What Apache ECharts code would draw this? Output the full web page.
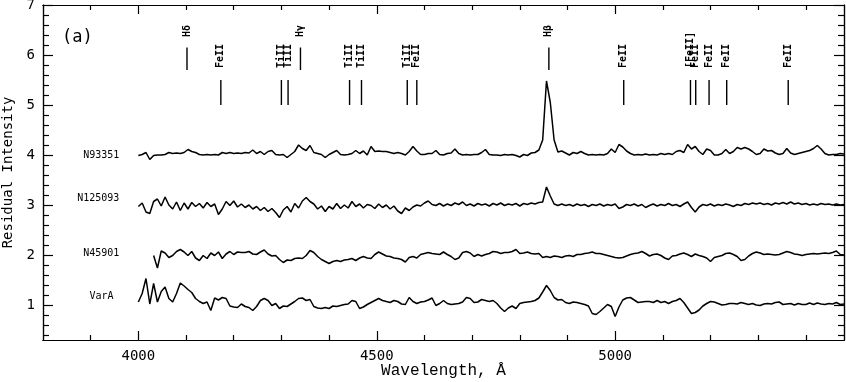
<!DOCTYPE html>
<html>
<head>
<meta charset="utf-8">
<script src="https://cdn.jsdelivr.net/npm/echarts@6/dist/echarts.min.js"></script>
<style>
html,body{margin:0;padding:0;background:#fff;}
#chart{width:846px;height:382px;}
</style>
</head>
<body>
<div id="chart"></div>
<script>
/* spectra, sampled every 8 A */
const waveStart = 4000;
const waveStep = 8;
const n45901Start = 4032;

const n93351 = [
  3.99,4.01,4.05,3.91,3.99,4.00,4.00,4.01,4.05,4.03,
  4.04,4.03,4.05,4.11,4.07,4.05,4.01,4.00,4.01,4.00,
  4.01,4.00,4.05,4.03,4.05,4.03,4.04,4.03,4.05,4.04,
  4.10,4.03,4.07,4.01,4.07,4.09,4.01,4.00,4.01,3.95,
  4.01,4.07,4.20,4.13,4.09,4.19,4.05,4.03,4.01,3.95,
  4.01,4.05,4.09,4.01,4.00,4.01,4.03,4.09,4.03,4.08,
  4.00,4.17,4.07,4.08,4.07,4.07,4.05,4.03,4.05,4.03,
  4.00,4.07,4.17,4.08,4.01,4.01,4.03,4.03,4.09,4.01,
  4.00,4.03,4.04,4.12,4.03,4.00,4.01,4.00,4.01,4.01,
  4.05,4.11,4.01,4.00,4.00,3.99,4.01,4.00,4.01,3.99,
  3.96,4.01,3.99,4.04,4.05,4.10,4.30,5.48,5.05,4.30,
  4.06,4.08,4.04,4.00,4.05,4.03,4.07,4.03,4.00,4.01,
  4.00,4.01,4.00,4.03,4.12,4.05,4.21,4.16,4.08,4.03,
  4.00,4.01,4.00,4.02,4.00,4.01,4.00,4.03,4.01,4.03,
  4.01,4.07,4.09,4.05,4.21,4.12,4.17,4.07,4.01,4.12,
  4.09,4.00,4.00,4.03,4.11,4.03,4.07,4.15,4.12,4.15,
  4.12,4.07,4.01,4.03,4.12,4.08,4.09,4.04,4.01,4.03,
  4.13,4.04,4.01,4.03,4.05,4.07,4.09,4.13,4.19,4.12,
  4.03,4.00,4.01,4.01,4.03,4.02
];

const n125093 = [
  2.97,3.04,2.86,2.83,3.07,3.12,2.98,3.16,3.00,2.92,
  3.06,2.89,3.04,2.92,3.05,2.97,3.03,2.94,3.05,2.97,
  3.02,2.81,2.92,3.07,2.99,3.08,2.96,3.02,2.95,3.00,
  2.92,2.97,2.89,2.95,2.87,2.93,2.85,2.75,2.90,2.97,
  2.86,3.03,2.94,3.08,3.15,3.07,3.02,2.92,2.98,2.87,
  2.97,2.92,3.03,2.93,3.00,2.94,3.07,2.97,3.02,2.94,
  3.01,2.99,2.93,3.02,2.95,3.00,2.92,2.98,2.88,2.83,
  2.94,2.89,2.96,3.00,2.98,3.04,3.08,3.01,2.99,3.03,
  2.98,3.02,2.99,3.04,3.01,3.06,2.99,3.02,2.98,3.03,
  3.00,3.02,2.98,3.03,3.00,3.04,2.99,3.02,3.00,3.03,
  2.98,3.03,3.01,3.04,3.02,3.05,3.06,3.36,3.18,3.02,
  2.99,3.02,2.99,3.01,2.98,3.02,2.99,3.01,2.97,3.01,
  2.99,3.02,2.98,3.01,2.99,3.02,2.93,2.96,3.01,2.99,
  3.02,2.98,3.01,2.95,2.99,3.02,2.98,3.01,2.99,3.03,
  2.99,3.01,2.97,3.02,3.06,2.95,2.86,2.96,3.01,2.99,
  3.02,2.98,3.01,2.99,3.02,3.00,2.97,3.01,2.99,3.03,
  3.01,3.04,3.02,3.04,3.01,3.03,3.00,3.04,3.02,3.05,
  3.02,3.06,3.02,3.04,3.01,3.03,3.00,3.02,3.00,3.03,
  3.01,3.02,3.00,3.02,3.00,3.01
];

const n45901 = [
  1.99,1.74,2.08,2.04,1.95,1.99,
  2.07,2.11,2.06,1.99,2.07,1.94,1.89,1.99,1.93,2.04,
  1.99,2.06,1.93,2.02,2.07,2.01,2.06,2.05,2.05,2.07,
  2.02,2.01,2.06,2.10,2.02,1.98,1.99,1.91,1.85,1.90,
  1.89,1.93,1.94,1.93,1.99,2.09,2.05,1.97,1.91,1.87,
  1.83,1.87,1.89,1.87,1.90,1.91,1.93,1.89,1.94,1.97,
  1.94,1.93,2.01,2.06,2.02,1.98,1.97,1.94,1.93,1.91,
  1.86,1.95,1.97,1.94,2.01,2.03,2.05,2.03,2.02,2.01,
  2.06,2.01,1.97,1.91,1.94,2.05,2.07,2.04,1.97,2.01,
  1.98,2.01,2.03,2.07,2.06,2.03,2.05,2.05,2.07,2.11,
  2.03,2.04,2.06,2.03,2.02,2.03,1.95,1.97,1.95,1.98,
  1.97,1.95,1.98,1.99,1.97,2.01,2.01,2.03,2.04,2.06,
  2.03,2.03,2.01,1.99,1.97,1.95,1.94,1.95,1.98,2.01,
  2.03,2.04,2.07,2.03,1.98,2.01,2.02,1.99,1.94,1.91,
  1.98,1.99,2.02,2.04,2.01,1.97,2.02,1.99,1.97,1.94,
  1.87,1.95,1.97,1.99,2.03,2.04,2.01,1.97,1.89,1.91,
  1.98,2.03,2.06,2.04,2.01,2.02,2.01,2.00,2.01,2.04,
  2.07,2.05,2.02,2.01,1.99,2.01,2.02,2.03,2.02,2.03,
  2.04,2.03,2.05,2.08,2.01,2.00
];

const varA = [
  1.06,1.23,1.53,1.02,1.43,1.06,1.27,1.36,1.13,1.06,
  1.23,1.44,1.38,1.31,1.25,1.13,1.07,1.03,1.06,0.89,
  1.14,1.10,1.15,1.13,0.98,0.96,0.95,1.02,0.97,0.95,
  0.89,0.97,1.09,1.13,1.09,0.99,1.03,0.93,0.98,0.97,
  1.02,1.07,1.13,1.14,1.09,1.11,0.97,0.94,0.93,0.95,
  0.93,0.98,0.97,0.99,1.01,1.02,1.09,1.07,0.93,0.96,
  1.01,1.05,1.09,1.13,1.09,1.07,1.05,1.09,1.07,1.02,
  1.01,1.15,1.07,1.03,1.06,1.07,1.10,1.14,0.99,1.03,
  1.09,1.03,1.01,1.02,1.03,1.06,1.15,1.13,1.05,1.06,
  1.11,1.09,1.07,1.09,1.03,0.94,0.87,0.94,0.98,0.93,
  1.03,1.05,1.06,1.07,1.09,1.14,1.26,1.39,1.29,1.15,
  1.10,1.11,1.05,1.03,1.06,1.05,1.03,1.01,0.98,0.83,
  0.81,0.87,0.94,1.01,0.97,0.77,0.96,1.10,1.14,1.15,
  1.10,1.05,1.06,1.07,1.07,1.05,1.09,1.05,1.07,1.03,
  1.07,1.09,1.13,1.05,0.94,0.83,0.85,0.90,0.98,1.03,
  1.07,1.06,1.03,1.00,1.01,1.03,1.03,1.02,1.05,1.03,
  1.01,1.03,1.00,0.99,1.02,1.03,1.02,1.05,1.06,1.01,
  1.02,1.03,1.00,1.03,1.01,1.01,1.04,1.01,1.04,1.02,
  1.01,1.03,1.02,1.05,1.01,1.02
];

const spectrumNames = ['N93351', 'N125093', 'N45901', 'VarA'];

/* line identifications: 1 = upper row, 0 = lower row */
const lineWaves = [4102, 4340, 4861, 4173, 4300, 4314, 4443, 4468, 4564, 4584, 5018, 5158, 5169, 5197, 5234, 5363];
const lineNames = ['Hδ', 'Hγ', 'Hβ', 'FeII', 'TiII', 'TiII', 'TiII', 'TiII', 'TiII', 'FeII', 'FeII', '[FeII]', 'FeII', 'FeII', 'FeII', 'FeII'];
const lineRows = [1, 1, 1, 0, 0, 0, 0, 0, 0, 0, 0, 0, 0, 0, 0, 0];

/* ticks */
const xMajorTicks = [4000, 4500, 5000];
const xMinorTicks = [3900, 4100, 4200, 4300, 4400, 4600, 4700, 4800, 4900, 5100, 5200, 5300, 5400];
const yMajorTicks = [1, 2, 3, 4, 5, 6, 7];
const yMinorTicks = [0.4, 0.6, 0.8, 1.2, 1.4, 1.6, 1.8, 2.2, 2.4, 2.6, 2.8, 3.2, 3.4, 3.6, 3.8,
  4.2, 4.4, 4.6, 4.8, 5.2, 5.4, 5.6, 5.8, 6.2, 6.4, 6.6, 6.8];

const chart = echarts.init(document.getElementById('chart'));

const mono = '"DejaVu Sans Mono", monospace';
const black = '#000';

function pairs(start, vals) {
  return vals.map((v, i) => [start + i * waveStep, v]);
}

function xAx(pos, ticks, len, withLabels) {
  return {
    type: 'value', min: 3800, max: 5480, position: pos,
    axisLine: { show: true, onZero: false, lineStyle: { color: black, width: 1.2 } },
    axisTick: { show: true, inside: true, length: len, customValues: ticks, lineStyle: { color: black, width: 1.2 } },
    axisLabel: { show: withLabels, customValues: ticks, margin: 9, color: black, fontFamily: mono, fontSize: 14,
      formatter: v => String(v) },
    splitLine: { show: false }
  };
}

function yAx(pos, ticks, len, withLabels) {
  return {
    type: 'value', min: 0.3, max: 7, position: pos,
    axisLine: { show: true, onZero: false, lineStyle: { color: black, width: 1.2 } },
    axisTick: { show: true, inside: true, length: len, customValues: ticks, lineStyle: { color: black, width: 1.2 } },
    axisLabel: { show: withLabels, customValues: ticks, margin: 8, color: black, fontFamily: mono, fontSize: 14,
      formatter: v => String(v) },
    splitLine: { show: false }
  };
}

const xBottom = xAx('bottom', xMajorTicks, 9, true);
xBottom.name = 'Wavelength, Å';
xBottom.nameLocation = 'middle';
xBottom.nameGap = 23;
xBottom.nameMoveOverlap = false;
xBottom.nameTextStyle = { color: black, fontFamily: '"Liberation Mono", monospace', fontSize: 16 };

const yLeft = yAx('left', yMajorTicks, 10, true);
yLeft.name = 'Residual Intensity';
yLeft.nameLocation = 'middle';
yLeft.nameGap = 28;
yLeft.nameMoveOverlap = false;
yLeft.nameTextStyle = { color: black, fontFamily: mono, fontSize: 14 };

function spec(name, start, vals) {
  return {
    name, type: 'line', data: pairs(start, vals),
    xAxisIndex: 0, yAxisIndex: 0,
    symbol: 'none', silent: true,
    lineStyle: { color: black, width: 1.5 }
  };
}

const option = {
  animation: false,
  backgroundColor: '#fff',
  grid: { left: 43, right: 2, top: 5, bottom: 42, outerBoundsMode: 'none', containLabel: false },
  title: {
    text: '(a)', left: 57, top: 24,
    textStyle: { color: black, fontFamily: mono, fontSize: 17, fontWeight: 'normal' }
  },
  xAxis: [
    xBottom,
    xAx('bottom', xMinorTicks, 5, false),
    xAx('top', xMajorTicks, 9, false),
    xAx('top', xMinorTicks, 5, false)
  ],
  yAxis: [
    yLeft,
    yAx('left', yMinorTicks, 6, false),
    yAx('right', yMajorTicks, 10, false),
    yAx('right', yMinorTicks, 6, false)
  ],
  series: [
    spec('N93351', waveStart, n93351),
    spec('N125093', waveStart, n125093),
    spec('N45901', n45901Start, n45901),
    spec('VarA', waveStart, varA),
    {
      /* line identification ticks and labels */
      type: 'custom', xAxisIndex: 0, yAxisIndex: 0, silent: true,
      data: lineWaves.map((w, i) => [w, lineRows[i]]),
      encode: { x: 0, y: 1 },
      renderItem(params, api) {
        const w = api.value(0);
        const up = api.value(1) === 1;
        const lo = api.coord([w, up ? 5.7 : 5.0]);
        const hi = api.coord([w, up ? 6.15 : 5.5]);
        const tp = api.coord([w, up ? 6.36 : 5.74]);
        return {
          type: 'group',
          children: [
            { type: 'line', shape: { x1: lo[0], y1: lo[1], x2: hi[0], y2: hi[1] }, style: { stroke: black, lineWidth: 1.4 } },
            { type: 'text', x: tp[0], y: tp[1], rotation: Math.PI / 2,
              style: { text: lineNames[params.dataIndex], align: 'left', verticalAlign: 'middle', fill: black,
                fontFamily: mono, fontSize: 10, fontWeight: 'bold' } }
          ]
        };
      }
    },
    {
      /* spectrum names */
      type: 'custom', xAxisIndex: 0, yAxisIndex: 0, silent: true,
      data: [[3960, 4.0], [3960, 3.14], [3960, 2.04], [3948, 1.18]],
      encode: { x: 0, y: 1 },
      renderItem(params, api) {
        const p = api.coord([api.value(0), api.value(1)]);
        return { type: 'text', x: p[0], y: p[1],
          style: { text: spectrumNames[params.dataIndex], align: 'right', verticalAlign: 'middle', fill: black,
            fontFamily: mono, fontSize: 10 } };
      }
    }
  ]
};

chart.setOption(option);
</script>
</body>
</html>
